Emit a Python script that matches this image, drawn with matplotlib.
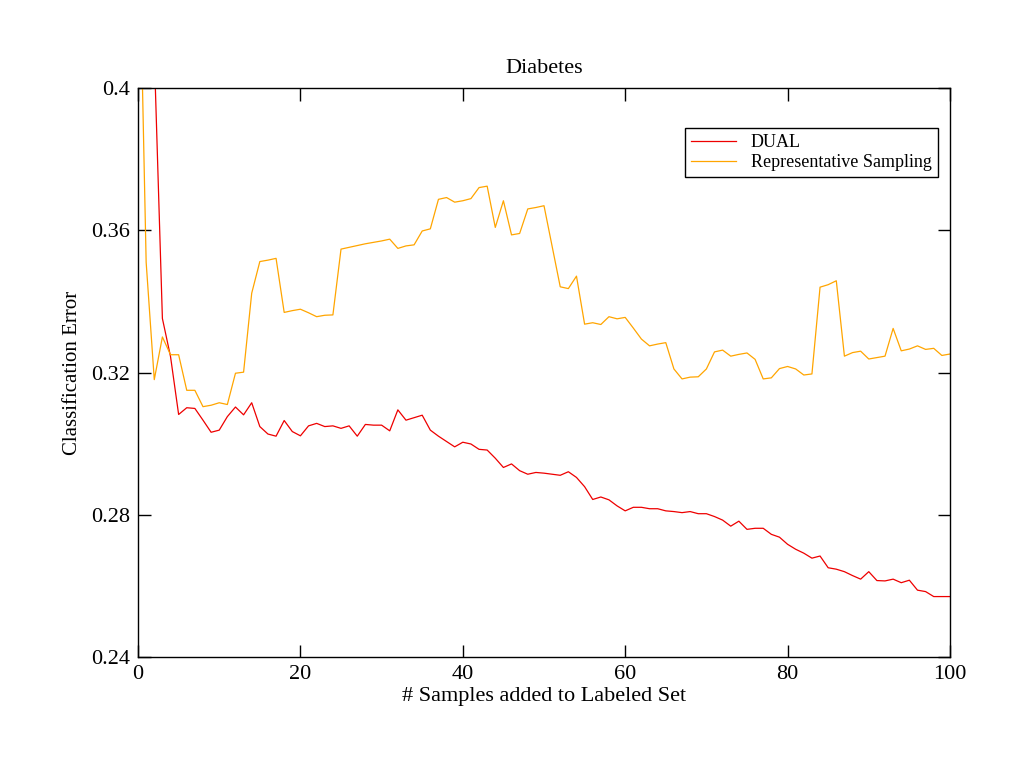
import numpy as np
import matplotlib
matplotlib.use("Agg")
import matplotlib.pyplot as plt

# Datos (error de clasificacion, Diabetes)
muestras = np.arange(0, 101)

dual = [0.48, 0.45, 0.41, 0.3352, 0.3245, 0.3082, 0.3101, 0.3099, 0.3066, 0.3032,
        0.3038, 0.3076, 0.3103, 0.3081, 0.3115, 0.3048, 0.3027, 0.3021, 0.3065, 0.3034,
        0.3022, 0.3050, 0.3057, 0.3048, 0.3050, 0.3043, 0.3050, 0.3021, 0.3054, 0.3052,
        0.3052, 0.3036, 0.3095, 0.3066, 0.3073, 0.3080, 0.3038, 0.3021, 0.3006, 0.2991,
        0.3004, 0.2999, 0.2984, 0.2982, 0.2959, 0.2933, 0.2943, 0.2924, 0.2914, 0.2919,
        0.2917, 0.2914, 0.2911, 0.2921, 0.2905, 0.2879, 0.2843, 0.2850, 0.2842, 0.2825,
        0.2811, 0.2821, 0.2821, 0.2817, 0.2817, 0.2811, 0.2809, 0.2806, 0.2809, 0.2803,
        0.2803, 0.2795, 0.2785, 0.2768, 0.2782, 0.2759, 0.2762, 0.2762, 0.2745, 0.2737,
        0.2717, 0.2703, 0.2692, 0.2678, 0.2684, 0.2651, 0.2647, 0.2640, 0.2629, 0.2619,
        0.2640, 0.2615, 0.2614, 0.2619, 0.2609, 0.2616, 0.2588, 0.2584, 0.2570, 0.2570,
        0.2570]

representativo = [0.46, 0.351, 0.318, 0.330, 0.325, 0.325, 0.315, 0.315, 0.3104, 0.3108,
                  0.3115, 0.3110, 0.3198, 0.3201, 0.3423, 0.3512, 0.3516, 0.3521, 0.3369, 0.3374,
                  0.3378, 0.3368, 0.3357, 0.3361, 0.3362, 0.3547, 0.3552, 0.3557, 0.3562, 0.3566,
                  0.3570, 0.3575, 0.3549, 0.3556, 0.3559, 0.3598, 0.3604, 0.3687, 0.3692, 0.3679,
                  0.3683, 0.3689, 0.3720, 0.3724, 0.3608, 0.3683, 0.3587, 0.3591, 0.3660, 0.3664,
                  0.3669, 0.3555, 0.3441, 0.3436, 0.3471, 0.3336, 0.3340, 0.3335, 0.3357, 0.3351,
                  0.3355, 0.3325, 0.3294, 0.3275, 0.3280, 0.3284, 0.3210, 0.3182, 0.3187, 0.3188,
                  0.3210, 0.3258, 0.3263, 0.3246, 0.3251, 0.3255, 0.3237, 0.3182, 0.3185, 0.3211,
                  0.3217, 0.3210, 0.3193, 0.3196, 0.3440, 0.3447, 0.3458, 0.3246, 0.3256, 0.3260,
                  0.3238, 0.3242, 0.3246, 0.3324, 0.3261, 0.3266, 0.3275, 0.3265, 0.3268, 0.3248,
                  0.3252]

xticks = [0, 20, 40, 60, 80, 100]
yticks = [0.24, 0.28, 0.32, 0.36, 0.4]
ytick_labels = ["0.24", "0.28", "0.32", "0.36", "0.4"]

plt.rcParams['font.family'] = ['Liberation Serif', 'DejaVu Serif']

fig = plt.figure(figsize=(10.24, 7.68), dpi=100)
ax = fig.add_axes([0.1348, 0.1445, 0.7929, 0.7409])

ax.plot(muestras, dual, color='#ee0000', linewidth=0.9, label='DUAL')
ax.plot(muestras, representativo, color='orange', linewidth=0.9, label='Representative Sampling')

ax.set_xlim(0, 100)
ax.set_ylim(0.24, 0.4)
ax.set_xticks(xticks)
ax.set_yticks(yticks)
ax.set_yticklabels(ytick_labels)
ax.tick_params(direction='in', length=9, width=1, top=True, right=True, labelsize=16, pad=6)
for s in ax.spines.values():
    s.set_linewidth(1)

ax.set_title('Diabetes', fontsize=16, pad=11)
ax.set_xlabel('# Samples added to Labeled Set', fontsize=16, labelpad=2)
ax.set_ylabel('Classification Error', fontsize=15, labelpad=6)

leg = ax.legend(loc='upper right', bbox_to_anchor=(0.985, 0.93), fontsize=13,
                fancybox=False, framealpha=1, edgecolor='black', borderpad=0.35,
                handlelength=2.5, labelspacing=0.15, borderaxespad=0)
leg.get_frame().set_linewidth(1)

plt.savefig('out.png', dpi=100)
